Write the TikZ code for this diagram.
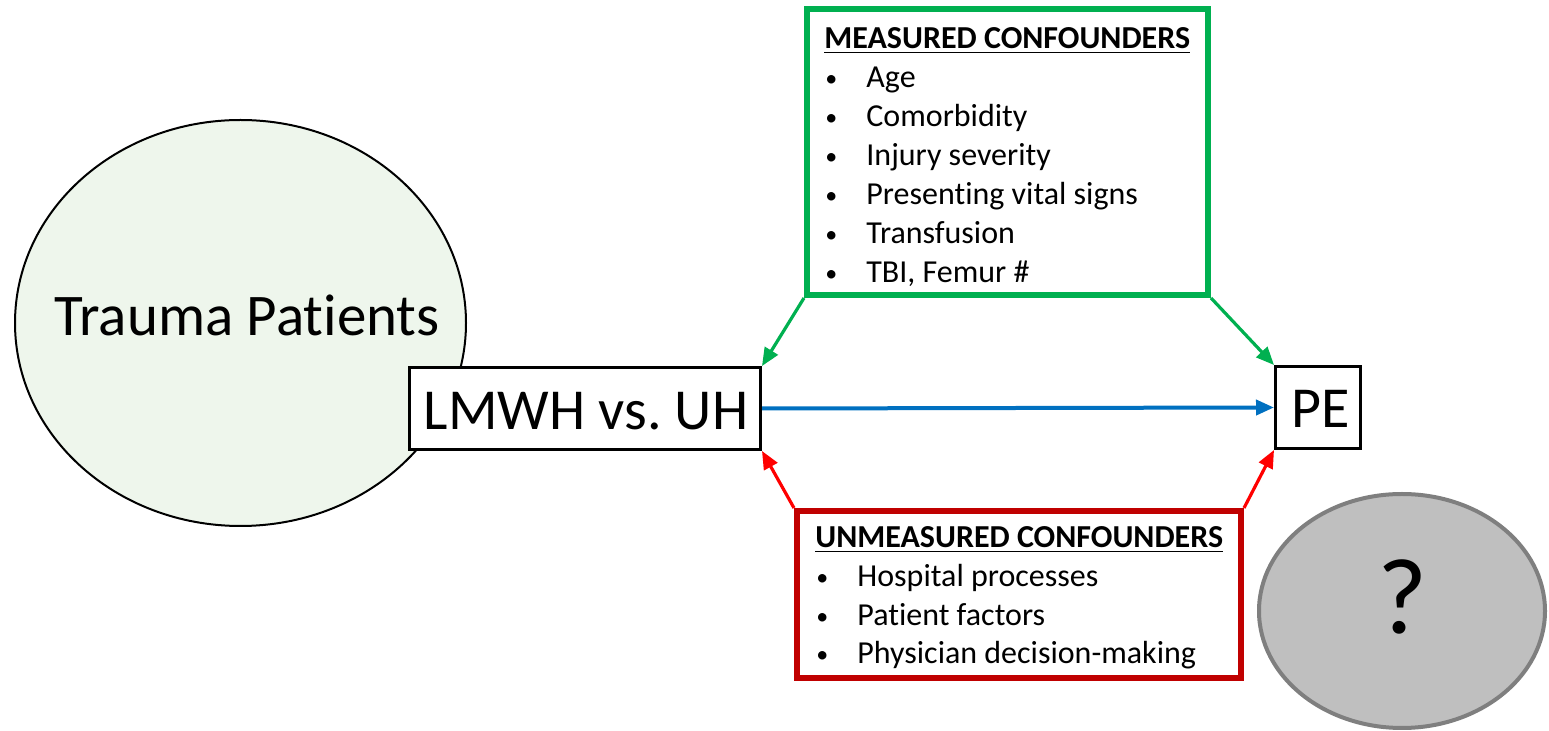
\documentclass[tikz,border=0pt]{standalone}
\usepackage{fontspec}
\setmainfont{Carlito}[Ligatures=NoCommon]
\usetikzlibrary{arrows.meta,shapes.geometric}
\definecolor{boxgreen}{HTML}{00B050}
\definecolor{boxred}{HTML}{C00000}
\definecolor{arrred}{HTML}{FF0000}
\definecolor{arrblue}{HTML}{0070C0}
\definecolor{palegreen}{RGB}{238,246,236}
\definecolor{qgray}{HTML}{BFBFBF}
\definecolor{qedge}{HTML}{7F7F7F}
\frenchspacing
% bullet item: small bullet, then the text at a fixed indent
\newcommand\bulitem[1]{\makebox[7pt][c]{\raisebox{0.6pt}{\fontsize{12}{12}\selectfont\textbullet}}\hspace{14pt}#1}
\begin{document}
\begin{tikzpicture}[x=0.5pt,y=-0.5pt,
  bigtext/.style={font=\fontsize{29}{34}\selectfont, inner sep=0pt, anchor=base},
  smalltext/.style={font=\fontsize{16}{19.5}\selectfont, inner sep=0pt, anchor=base west},
  headtext/.style={smalltext, font=\fontsize{16}{19.5}\selectfont\bfseries},
  tbox/.style={draw=black, fill=white, line width=1.5pt, inner sep=0pt},
  listbox/.style={fill=white, line width=3pt, inner sep=0pt},
  conn/.style={line width=1.6pt, -{Triangle[length=9pt,width=7.5pt]}}]
\useasboundingbox (0,0) rectangle (1549,731);

% population and unknown-factor ellipses
\node[ellipse, draw=black, line width=1pt, fill=palegreen, inner sep=0pt,
      minimum width=225.5pt, minimum height=203pt] (pop) at (240.5,323) {};
\node[bigtext, font=\fontsize{29.5}{34}\selectfont] (poptext) at (247,336) {Trauma Patients};
\node[ellipse, draw=qedge, line width=2pt, fill=qgray, inner sep=0pt,
      minimum width=143pt, minimum height=117pt] (unk) at (1402,611) {};
\node[bigtext, font=\fontsize{54}{60}\selectfont] (unktext) at (1403,634) {?};

% exposure and outcome
\node[tbox, minimum width=175.5pt, minimum height=41pt] (expo) at (585,408.5) {};
\node[bigtext] (expotext) at (586,430) {LMWH vs. UH};
\node[tbox, minimum width=42.5pt, minimum height=41pt] (pe) at (1318,407.5) {};
\node[bigtext] (petext) at (1321,428) {PE};

% measured confounders
\node[listbox, draw=boxgreen, minimum width=200.5pt, minimum height=143pt] (meas) at (1007.5,152) {};
\node[headtext] (meashead) at (824,49) {\underline{MEASURED CONFOUNDERS}};
\foreach \t [count=\i] in {Age, Comorbidity, Injury severity, Presenting vital signs, Transfusion, {TBI, Femur \#}}
  \node[smalltext] (meas\i) at (824,{88+39*(\i-1)}) {\bulitem{\t}};

% unmeasured confounders
\node[listbox, draw=boxred, minimum width=222pt, minimum height=83.5pt] (unmeas) at (1019,594.5) {};
\node[headtext] (unmeashead) at (815,548) {\underline{UNMEASURED CONFOUNDERS}};
\foreach \t [count=\i] in {Hospital processes, Patient factors, Physician decision-making}
  \node[smalltext] (unmeas\i) at (815,{587+38.5*(\i-1)}) {\bulitem{\t}};

% causal arrows
\draw[conn, arrblue, line width=2pt] (expo.east) -- (pe.west);
\draw[conn, boxgreen] (meas.south west) -- (expo.north east);
\draw[conn, boxgreen] (meas.south east) -- (pe.north west);
\draw[conn, arrred] (unmeas.north west) -- (expo.south east);
\draw[conn, arrred] (unmeas.north east) -- (pe.south west);
\end{tikzpicture}
\end{document}
